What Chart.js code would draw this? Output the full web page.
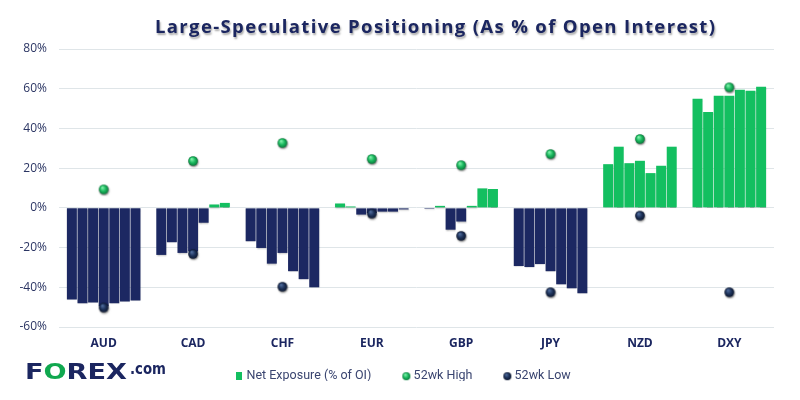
<!DOCTYPE html>
<html><head><meta charset="utf-8">
<script src="https://cdn.jsdelivr.net/npm/chart.js@4"></script>
<style>html,body{margin:0;padding:0;background:#fff}</style>
</head><body>
<canvas id="c" width="800" height="400"></canvas>
<script>
const categories = ['AUD','CAD','CHF','EUR','GBP','JPY','NZD','DXY'];
// weekly net exposure (% of open interest), oldest -> latest
const week1 = [-46.1, -23.7, -16.8,  2.2, -0.5, -29.3, 22.0, 54.9];
const week2 = [-48.1, -17.3, -20.2,  0.7,  1.0, -29.8, 30.8, 48.3];
const week3 = [-47.6, -22.7, -28.1, -3.4, -11.0, -28.3, 22.5, 56.4];
const week4 = [-49.5, -22.0, -22.7, -2.6, -6.9, -31.9, 23.7, 56.4];
const week5 = [-48.1,  -7.5, -31.9, -1.9,  1.0, -38.5, 17.5, 59.5];
const week6 = [-47.1,   1.7, -35.9, -1.9,  9.8, -40.5, 21.2, 59.0];
const week7 = [-46.6,   2.5, -40.0, -0.8,  9.5, -43.0, 30.8, 61.0];
const high52 = [9.3, 23.6, 32.7, 24.6, 21.5, 27.1, 34.7, 60.7];
const low52  = [-50.2, -23.2, -39.7, -2.9, -14.1, -42.5, -3.9, -42.5];
const yTicks = [-60, -40, -20, 0, 20, 40, 60, 80];

const GREEN = '#13bf60';
const NAVY = '#1c2862';
const TEXT_NAVY = '#1b2660';

function sphere(r, light, mid, dark, shadow) {
  const s = Math.ceil(r * 2 + 4);
  const c = document.createElement('canvas');
  c.width = s; c.height = s;
  const g = c.getContext('2d');
  const cx = s / 2, cy = s / 2;
  if (shadow) {
    g.shadowColor = 'rgba(0,0,0,0.35)'; g.shadowBlur = 2; g.shadowOffsetX = 0.5; g.shadowOffsetY = 1;
  }
  const grad = g.createRadialGradient(cx - r * 0.3, cy - r * 0.4, r * 0.1, cx, cy, r);
  grad.addColorStop(0, light); grad.addColorStop(0.55, mid); grad.addColorStop(1, dark);
  g.fillStyle = grad;
  g.beginPath(); g.arc(cx, cy, r, 0, Math.PI * 2); g.fill();
  return c;
}
function square(w, h, color) {
  const c = document.createElement('canvas');
  c.width = w; c.height = h;
  const g = c.getContext('2d');
  g.fillStyle = color; g.fillRect(0, 0, w, h);
  return c;
}
const hiImg = sphere(4.8, '#7df0a8', '#19b75d', '#0b7a3c', true);
const loImg = sphere(4.8, '#4d6a9a', '#1d3158', '#0c1730', true);
const hiLeg = sphere(4, '#7df0a8', '#19b75d', '#0b7a3c', false);
const loLeg = sphere(4, '#4d6a9a', '#1d3158', '#0c1730', false);
const sqLeg = square(6, 8, GREEN);

const weeks = [week1, week2, week3, week4, week5, week6, week7];
const barSets = weeks.map((w, i) => ({
  type: 'bar',
  label: 'Net Exposure (% of OI)',
  data: w,
  order: 2,
  backgroundColor: (ctx) => (ctx.raw >= 0 ? GREEN : NAVY),
  borderWidth: 0,
  categoryPercentage: 0.83,
  barPercentage: 0.94
}));

const titlePlugin = {
  id: 'titleAndLogo',
  afterLayout(chart) {
    const l = chart.legend;
    if (l) { l.left += 17.5; l.right += 17.5; l.top -= 19; l.bottom -= 19; }
  },
  beforeDatasetsDraw(chart) {
    const ctx = chart.ctx;
    ctx.save();
    ctx.shadowColor = 'rgba(0,0,0,0.25)';
    ctx.shadowBlur = 1.5; ctx.shadowOffsetX = 0.5; ctx.shadowOffsetY = 1;
  },
  afterDatasetsDraw(chart) {
    chart.ctx.restore();
  },
  afterDraw(chart) {
    const ctx = chart.ctx;
    // Title
    ctx.save();
    const title = 'Large-Speculative Positioning (As % of Open Interest)';
    ctx.font = '700 18.5px "Open Sans"';
    const w = ctx.measureText(title).width;
    const target = 560;
    if ('letterSpacing' in ctx) ctx.letterSpacing = ((target - w) / (title.length - 1)).toFixed(2) + 'px';
    ctx.fillStyle = TEXT_NAVY;
    ctx.textBaseline = 'alphabetic';
    ctx.textAlign = 'left';
    ctx.shadowColor = 'rgba(0,0,0,0.35)';
    ctx.shadowBlur = 2; ctx.shadowOffsetX = 1; ctx.shadowOffsetY = 2;
    ctx.fillText(title, 155, 33);
    ctx.restore();
    // Logo
    ctx.save();
    ctx.textBaseline = 'alphabetic';
    ctx.textAlign = 'left';
    ctx.font = '900 22px "DejaVu Sans"';
    const wF = ctx.measureText('FOREX').width;
    const sx = 102 / wF;
    ctx.translate(25, 379);
    ctx.scale(sx, 1);
    let x = 0;
    ctx.fillStyle = TEXT_NAVY;
    ctx.fillText('F', x, 0); x += ctx.measureText('F').width;
    ctx.fillStyle = '#10a84f';
    ctx.fillText('O', x, 0); x += ctx.measureText('O').width;
    ctx.fillStyle = TEXT_NAVY;
    ctx.fillText('REX', x, 0); x += ctx.measureText('REX').width;
    ctx.setTransform(1, 0, 0, 1, 0, 0);
    ctx.font = '700 16px "DejaVu Sans"';
    ctx.fillStyle = TEXT_NAVY;
    const wc = ctx.measureText('.com').width;
    ctx.translate(130, 374);
    ctx.scale(36 / wc, 1);
    ctx.fillText('.com', 0, 0);
    ctx.restore();
  }
};

new Chart(document.getElementById('c'), {
  data: {
    labels: categories,
    datasets: [
      ...barSets,
      { type: 'line', label: '52wk High', data: high52, showLine: false, order: 0,
        pointStyle: hiImg, pointRadius: 5, pointHoverRadius: 5 },
      { type: 'line', label: '52wk Low', data: low52, showLine: false, order: 0,
        pointStyle: loImg, pointRadius: 5, pointHoverRadius: 5 }
    ]
  },
  options: {
    responsive: false,
    animation: false,
    devicePixelRatio: 1,
    layout: { padding: { top: 49, left: 0, right: 26, bottom: 0 } },
    plugins: {
      tooltip: { enabled: false },
      title: { display: false },
      legend: {
        display: true,
        position: 'bottom',
        align: 'center',
        maxHeight: 45,
        onClick: null,
        labels: {
          usePointStyle: true,
          pointStyleWidth: 2,
          boxHeight: 8,
          padding: 34,
          color: '#3a4570',
          font: { family: 'Roboto', size: 12.5 },
          generateLabels: () => [
            { text: 'Net Exposure (% of OI)', pointStyle: sqLeg, fillStyle: GREEN, strokeStyle: GREEN, lineWidth: 0, hidden: false, datasetIndex: 0, fontColor: '#3a4570' },
            { text: '52wk High', pointStyle: hiLeg, fillStyle: GREEN, strokeStyle: GREEN, lineWidth: 0, hidden: false, datasetIndex: 7, fontColor: '#3a4570' },
            { text: '52wk Low', pointStyle: loLeg, fillStyle: NAVY, strokeStyle: NAVY, lineWidth: 0, hidden: false, datasetIndex: 8, fontColor: '#3a4570' }
          ]
        }
      }
    },
    scales: {
      x: {
        grid: { display: false, drawTicks: false },
        border: { display: false },
        ticks: { color: TEXT_NAVY, font: { family: 'Open Sans', size: 12, weight: '700' }, padding: 9 },
        afterFit(s) { s.height = 28; }
      },
      y: {
        min: -60, max: 80,
        afterBuildTicks(s) { s.ticks = yTicks.map(v => ({ value: v })); },
        grid: { color: '#dfe5e8', lineWidth: 1, drawTicks: false },
        border: { display: false },
        ticks: { color: '#2b3563', font: { family: 'Open Sans', size: 12 }, padding: 12,
                 callback: (v) => v + '%' },
        afterFit(s) { s.width = 59; }
      }
    }
  },
  plugins: [titlePlugin]
});
</script>
</body></html>
